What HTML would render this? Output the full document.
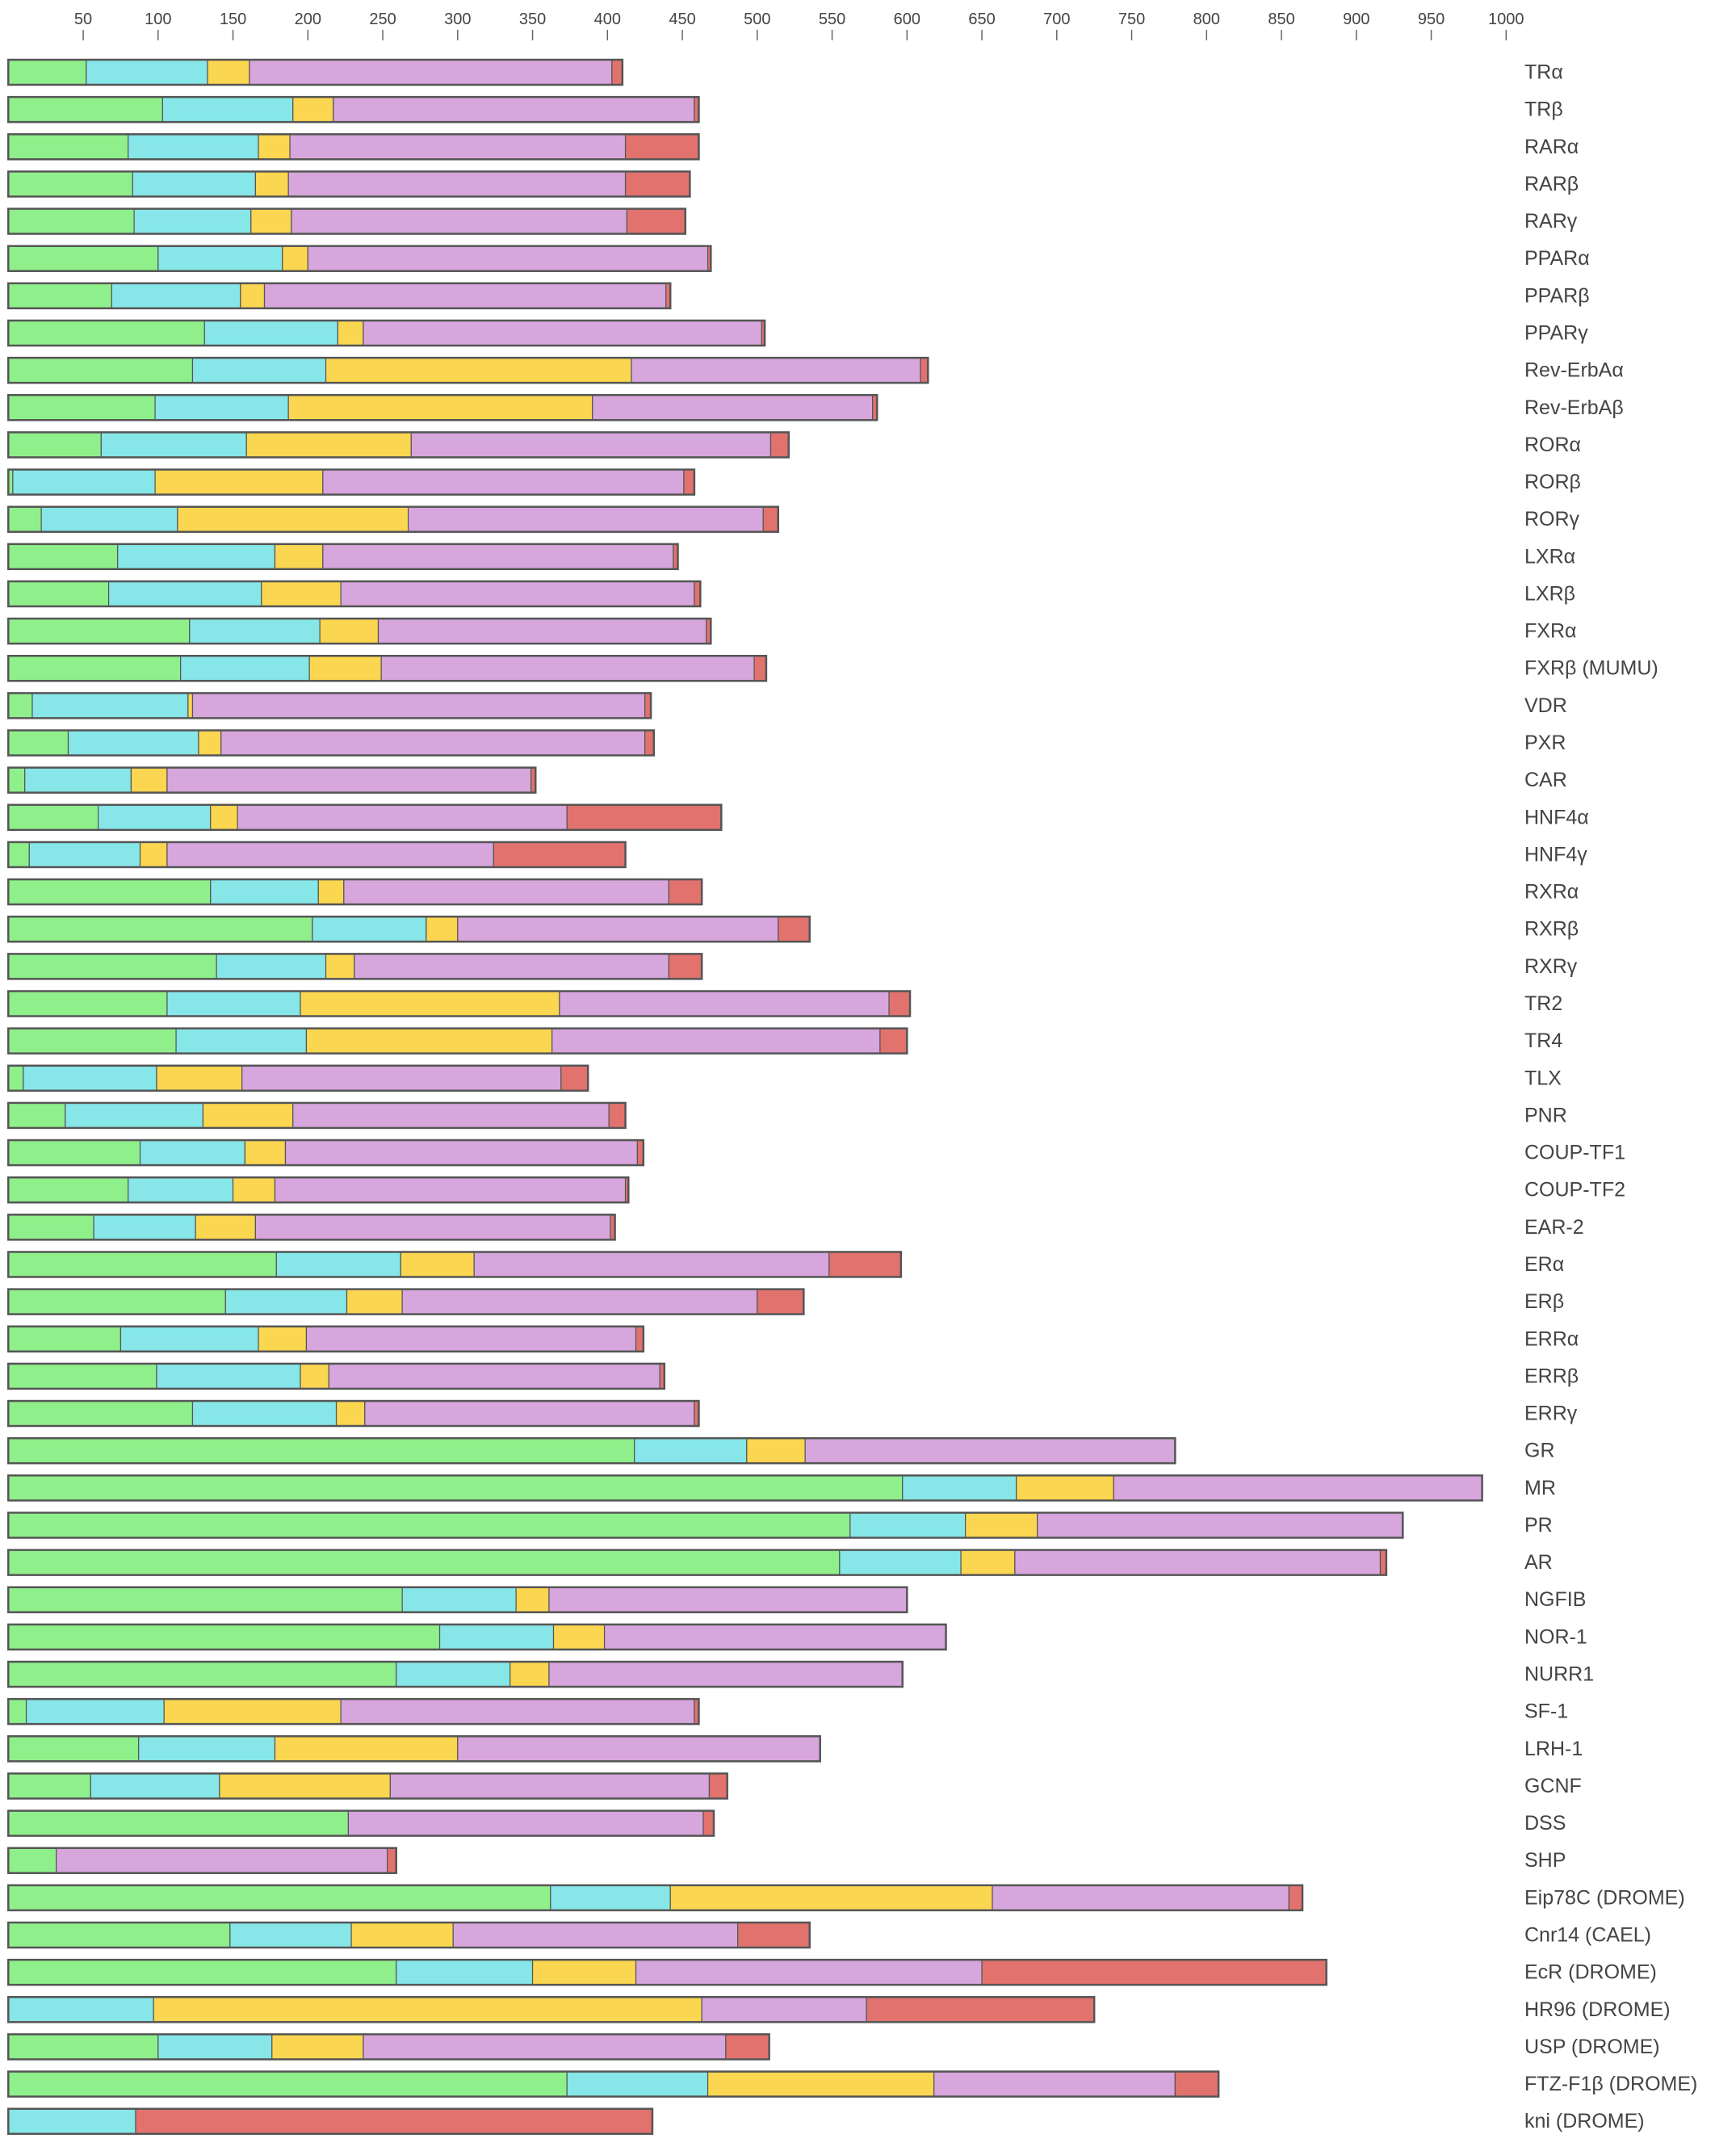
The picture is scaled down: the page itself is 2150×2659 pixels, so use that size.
<!DOCTYPE html>
<html><head><meta charset="utf-8">
<style>
html,body{margin:0;padding:0;background:#fff;}
svg{display:block;}
text{font-family:"Liberation Sans Narrow","Liberation Sans",sans-serif;fill:#444;}
</style></head>
<body>
<svg id="chart" width="2150" height="2659" viewBox="0 0 2150 2659" xmlns="http://www.w3.org/2000/svg"></svg>
<script>
const receptors=["TRα","TRβ","RARα","RARβ","RARγ","PPARα","PPARβ","PPARγ","Rev-ErbAα","Rev-ErbAβ","RORα","RORβ","RORγ","LXRα","LXRβ","FXRα","FXRβ (MUMU)","VDR","PXR","CAR","HNF4α","HNF4γ","RXRα","RXRβ","RXRγ","TR2","TR4","TLX","PNR","COUP-TF1","COUP-TF2","EAR-2","ERα","ERβ","ERRα","ERRβ","ERRγ","GR","MR","PR","AR","NGFIB","NOR-1","NURR1","SF-1","LRH-1","GCNF","DSS","SHP","Eip78C (DROME)","Cnr14 (CAEL)","EcR (DROME)","HR96 (DROME)","USP (DROME)","FTZ-F1β (DROME)","kni (DROME)"];
// cumulative domain end positions (residues)
const abEnd=[52,103,80,83,84,100,69,131,123,98,62,3,22,73,67,121,115,16,40,11,60,14,135,203,139,106,112,10,38,88,80,57,179,145,75,99,123,418,597,562,555,263,288,259,12,87,55,227,32,362,148,259,0,100,373,0];
const dbdEnd=[133,190,167,165,162,183,155,220,212,187,159,98,113,178,169,208,201,120,127,82,135,88,207,279,212,195,199,99,130,158,150,125,262,226,167,195,219,493,673,639,636,339,364,335,104,178,141,227,32,442,229,350,97,176,467,85];
const hingeEnd=[161,217,188,187,189,200,171,237,416,390,269,210,267,210,222,247,249,123,142,106,153,106,224,300,231,368,363,156,190,185,178,165,311,263,199,214,238,532,738,687,672,361,398,361,222,300,255,227,32,657,297,419,463,237,618,85];
const lbdEnd=[403,458,412,412,413,467,439,503,609,577,509,451,504,444,458,466,498,425,425,349,373,324,441,514,441,588,582,369,401,420,412,402,548,500,419,435,458,779,984,931,916,600,626,597,458,542,468,464,253,855,487,650,573,479,779,85];
const fEnd=[410,461,461,455,452,469,442,505,614,580,521,458,514,447,462,469,506,429,431,352,476,412,463,535,463,602,600,387,412,424,414,405,596,531,424,438,461,779,984,931,920,600,626,597,461,542,480,471,259,864,535,880,725,508,808,430];
const tickValues=[50,100,150,200,250,300,350,400,450,500,550,600,650,700,750,800,850,900,950,1000];

const NS="http://www.w3.org/2000/svg";
const svg=document.getElementById('chart');
const xScale=v=>10.3+1.855*v;
const rowY=i=>89.5+46.14*i;
const BAR_H=31;
const colors=["#8ff08b","#86e6e8","#fbd650","#d6a6dc","#e2726e"];
const segNames=["ab-domain","dbd-domain","hinge-domain","lbd-domain","f-domain"];
function mk(tag,attrs){const e=document.createElementNS(NS,tag);for(const k in attrs)e.setAttribute(k,attrs[k]);svg.appendChild(e);return e;}

// axis
tickValues.forEach(v=>{
  const x=xScale(v);
  const t=mk('text',{x:x,y:30,'font-size':20,'text-anchor':'middle'});
  t.textContent=v;
  
  
  const l=mk('line',{x1:x,x2:x,y1:37,y2:50,stroke:'#666','stroke-width':1.5});
  
  
});

receptors.forEach((name,i)=>{
  const cy=rowY(i), y=cy-BAR_H/2;
  const bounds=[0,abEnd[i],dbdEnd[i],hingeEnd[i],lbdEnd[i],fEnd[i]];
  for(let s=0;s<5;s++){
    const x0=xScale(bounds[s]),x1=xScale(bounds[s+1]);
    if(x1-x0<0.5)continue;
    const r=mk('rect',{x:x0,y:y,width:x1-x0,height:BAR_H,fill:colors[s],stroke:'#555','stroke-width':1.2});
    
    
  }
  const o=mk('rect',{x:xScale(0),y:y,width:xScale(fEnd[i])-xScale(0),height:BAR_H,fill:'none',stroke:'#555','stroke-width':2.5});
  
  
  const t=mk('text',{x:1888,y:cy+8,'font-size':25});
  t.textContent=name;
  
  
});
</script>
</body></html>
